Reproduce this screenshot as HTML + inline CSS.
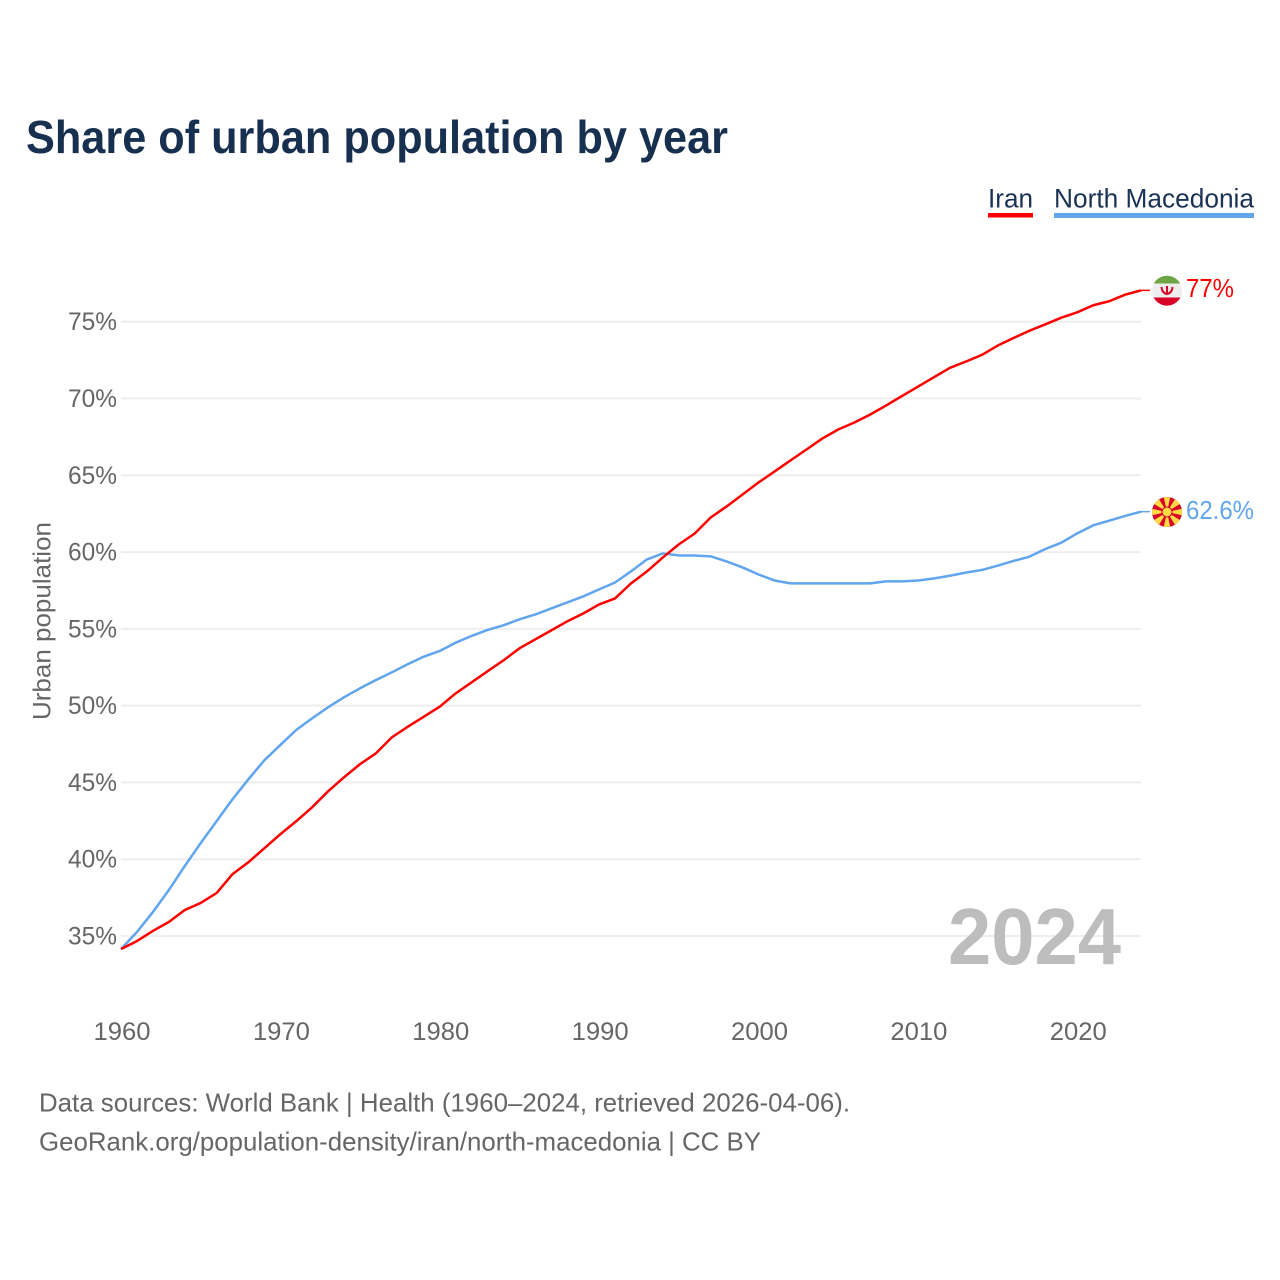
<!DOCTYPE html>
<html lang="en">
<head>
<meta charset="utf-8">
<title>Share of urban population by year</title>
<style>
html,body{margin:0;padding:0;background:#fff;}
svg{display:block;font-family:"Liberation Sans",sans-serif;}
</style>
</head>
<body>
<svg id="chart" xmlns="http://www.w3.org/2000/svg" width="1280" height="1280" viewBox="0 0 1280 1280">
  <defs>
    <clipPath id="flag-clip-ir"><circle cx="1167" cy="290.7" r="15"/></clipPath>
    <clipPath id="flag-clip-mk"><circle cx="1167" cy="512" r="15"/></clipPath>
  </defs>
  <rect width="1280" height="1280" fill="#fff"/>
  <text x="26" y="153" font-size="46" font-weight="700" fill="#18304f" textLength="702" lengthAdjust="spacingAndGlyphs">Share of urban population by year</text>

  <g>
    <text x="988" y="207.5" font-size="27" fill="#1a3254" textLength="45" lengthAdjust="spacingAndGlyphs">Iran</text>
    <rect x="988" y="213" width="45" height="4.5" fill="#ff0000"/>
  </g>
  <g>
    <text x="1054" y="207.5" font-size="27" fill="#1a3254" textLength="200" lengthAdjust="spacingAndGlyphs">North Macedonia</text>
    <rect x="1054" y="213" width="200" height="5" fill="#60a5ee"/>
  </g>

  <g id="grid"></g>
  <g id="y-axis"></g>
  <g id="x-axis"></g>
  <text transform="translate(50.5,621) rotate(-90)" text-anchor="middle" font-size="25" fill="#666" textLength="198" lengthAdjust="spacingAndGlyphs">Urban population</text>
  <text x="948" y="964" font-size="80" font-weight="700" fill="#bdbdbd" textLength="173" lengthAdjust="spacingAndGlyphs">2024</text>
  <g id="series"></g>

  <g clip-path="url(#flag-clip-ir)">
    <rect x="1152" y="275" width="30" height="32" fill="#eeeeee"/>
    <rect x="1152" y="275" width="30" height="8.5" fill="#6da544"/>
    <rect x="1152" y="297.5" width="30" height="10" fill="#d80027"/>
    <path d="M1161.5 287 q0.5 6 5.5 7 q5-1 5.5-7 M1167 286 v9" fill="none" stroke="#d80027" stroke-width="2"/>
  </g>
  <g clip-path="url(#flag-clip-mk)">
    <rect x="1152" y="497" width="30" height="30" fill="#d80027"/>
    <g fill="#ffda44">
      <polygon points="1163.5,496 1170.5,496 1167,512"/>
      <polygon points="1163.5,528 1170.5,528 1167,512"/>
      <polygon points="1151,508.5 1151,515.5 1167,512"/>
      <polygon points="1183,508.5 1183,515.5 1167,512"/>
      <polygon points="1175.5,498.4 1180.6,503.5 1167,512"/>
      <polygon points="1158.5,498.4 1153.4,503.5 1167,512"/>
      <polygon points="1175.5,525.6 1180.6,520.5 1167,512"/>
      <polygon points="1158.5,525.6 1153.4,520.5 1167,512"/>
      <circle cx="1167" cy="512" r="5" stroke="#d80027" stroke-width="1"/>
    </g>
  </g>

  <text id="value-iran" x="1186" y="297" font-size="26" fill="#ff0000" textLength="48" lengthAdjust="spacingAndGlyphs">77%</text>
  <text id="value-mk" x="1186" y="519" font-size="26" fill="#60a5ee" textLength="68" lengthAdjust="spacingAndGlyphs">62.6%</text>

  <text x="39" y="1111.5" font-size="26" fill="#666" textLength="811" lengthAdjust="spacingAndGlyphs">Data sources: World Bank | Health (1960–2024, retrieved 2026-04-06).</text>
  <text x="39" y="1150.5" font-size="26" fill="#666" textLength="722" lengthAdjust="spacingAndGlyphs">GeoRank.org/population-density/iran/north-macedonia | CC BY</text>
</svg>
<script>
const startYear = 1960;
const yTickValues = [35, 40, 45, 50, 55, 60, 65, 70, 75];
const xTickValues = [1960, 1970, 1980, 1990, 2000, 2010, 2020];
const iranValues = [34.15,34.67,35.33,35.91,36.69,37.15,37.8,39.03,39.81,40.72,41.63,42.48,43.39,44.43,45.34,46.19,46.9,47.94,48.63,49.28,49.93,50.8,51.52,52.24,52.95,53.73,54.32,54.9,55.49,56.0,56.59,56.98,57.96,58.74,59.65,60.5,61.21,62.25,62.97,63.75,64.53,65.24,65.96,66.67,67.39,67.98,68.43,68.95,69.54,70.16,70.77,71.38,71.99,72.4,72.83,73.44,73.94,74.41,74.83,75.26,75.61,76.07,76.33,76.76,77.04];
const macedoniaValues = [34.15,35.26,36.56,37.99,39.55,41.05,42.48,43.91,45.21,46.45,47.44,48.42,49.18,49.9,50.55,51.13,51.67,52.17,52.7,53.19,53.56,54.1,54.54,54.93,55.23,55.62,55.94,56.33,56.72,57.11,57.57,58.02,58.74,59.52,59.91,59.78,59.78,59.72,59.39,59.0,58.54,58.15,57.96,57.96,57.96,57.96,57.96,57.96,58.09,58.09,58.15,58.28,58.46,58.66,58.83,59.11,59.42,59.7,60.2,60.61,61.22,61.74,62.04,62.35,62.63];

const SVG_NS = 'http://www.w3.org/2000/svg';
function xScale(year) { return 121 + (year - 1960) * (1141 - 121) / 64; }
function yScale(pct) { return 936 - (pct - 35) * (936 - 321.7) / 40; }

const gridGroup = document.getElementById('grid');
const yAxisGroup = document.getElementById('y-axis');
const xAxisGroup = document.getElementById('x-axis');
const seriesGroup = document.getElementById('series');

yTickValues.forEach(function (v) {
  const line = document.createElementNS(SVG_NS, 'line');
  
  
  line.setAttribute('x1', xScale(1960));
  line.setAttribute('x2', xScale(2024));
  line.setAttribute('y1', yScale(v));
  line.setAttribute('y2', yScale(v));
  line.setAttribute('stroke', '#eeeeee');
  line.setAttribute('stroke-width', '2');
  gridGroup.appendChild(line);

  const label = document.createElementNS(SVG_NS, 'text');
  
  
  label.setAttribute('x', 68);
  label.setAttribute('y', yScale(v) + 8.5);
  label.setAttribute('font-size', '25');
  label.setAttribute('fill', '#666');
  label.setAttribute('textLength', '49');
  label.setAttribute('lengthAdjust', 'spacingAndGlyphs');
  label.textContent = v + '%';
  yAxisGroup.appendChild(label);
});

xTickValues.forEach(function (year) {
  const label = document.createElementNS(SVG_NS, 'text');
  
  
  label.setAttribute('x', xScale(year) - 27.5);
  label.setAttribute('y', 1040);
  label.setAttribute('font-size', '25');
  label.setAttribute('fill', '#666');
  label.setAttribute('textLength', '57');
  label.setAttribute('lengthAdjust', 'spacingAndGlyphs');
  label.textContent = year;
  xAxisGroup.appendChild(label);
});

function linePath(values) {
  return values.map(function (v, i) {
    return (i ? 'L' : 'M') + xScale(startYear + i).toFixed(2) + ' ' + yScale(v).toFixed(2);
  }).join(' ');
}
function connectorPath(values) {
  const last = values[values.length - 1];
  return 'M' + xScale(startYear + values.length - 1).toFixed(2) + ' ' + yScale(last).toFixed(2) + ' L1150 ' + yScale(last).toFixed(2);
}

const macedoniaLine = document.createElementNS(SVG_NS, 'path');


macedoniaLine.setAttribute('d', linePath(macedoniaValues));
macedoniaLine.setAttribute('fill', 'none');
macedoniaLine.setAttribute('stroke', '#60a5ee');
macedoniaLine.setAttribute('stroke-width', '2.5');
macedoniaLine.setAttribute('stroke-linejoin', 'round');
seriesGroup.appendChild(macedoniaLine);

const macedoniaConnector = document.createElementNS(SVG_NS, 'path');


macedoniaConnector.setAttribute('d', connectorPath(macedoniaValues));
macedoniaConnector.setAttribute('fill', 'none');
macedoniaConnector.setAttribute('stroke', '#60a5ee');
macedoniaConnector.setAttribute('stroke-width', '1.5');
seriesGroup.appendChild(macedoniaConnector);

const iranLine = document.createElementNS(SVG_NS, 'path');


iranLine.setAttribute('d', linePath(iranValues));
iranLine.setAttribute('fill', 'none');
iranLine.setAttribute('stroke', '#ff0000');
iranLine.setAttribute('stroke-width', '2.5');
iranLine.setAttribute('stroke-linejoin', 'round');
seriesGroup.appendChild(iranLine);

const iranConnector = document.createElementNS(SVG_NS, 'path');


iranConnector.setAttribute('d', connectorPath(iranValues));
iranConnector.setAttribute('fill', 'none');
iranConnector.setAttribute('stroke', '#ff0000');
iranConnector.setAttribute('stroke-width', '1.5');
seriesGroup.appendChild(iranConnector);
</script>
</body>
</html>
